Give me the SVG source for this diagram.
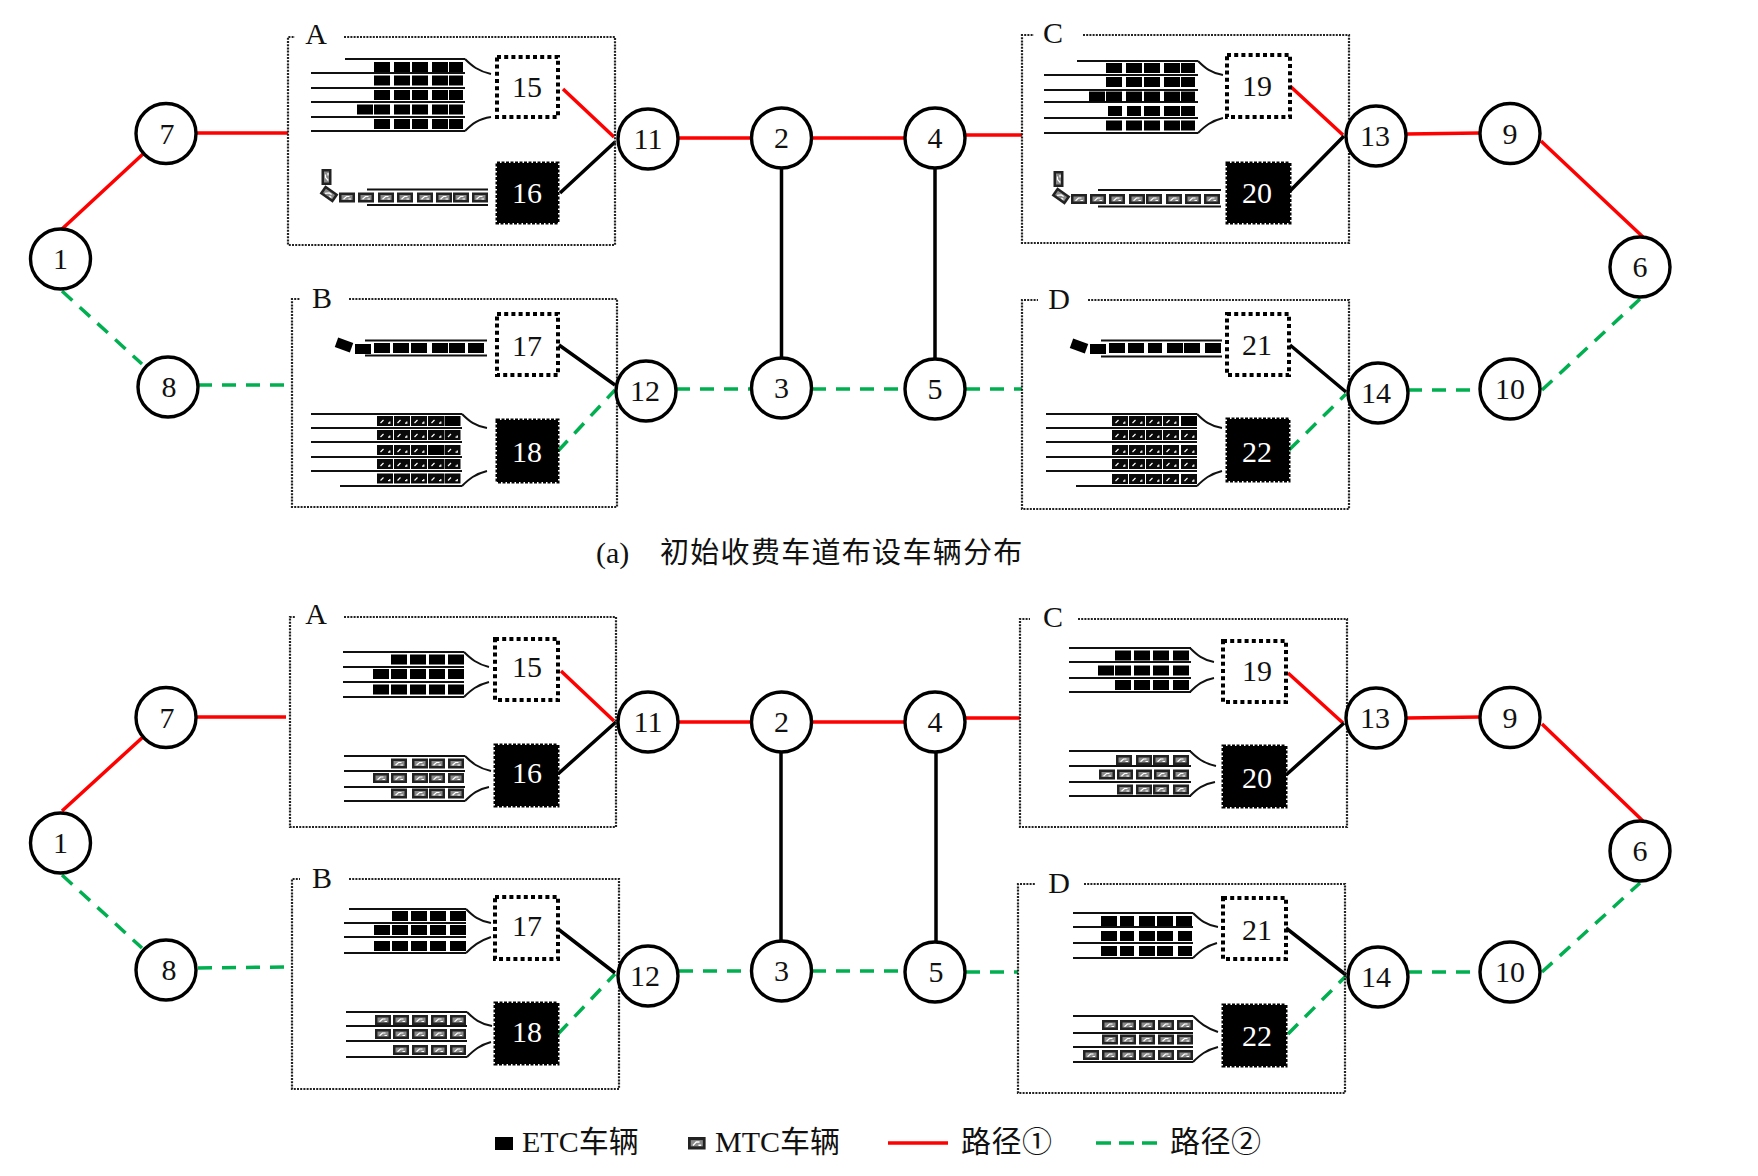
<svg xmlns="http://www.w3.org/2000/svg" width="1758" height="1176" viewBox="0 0 1758 1176">
<style>
text{font-family:"Liberation Serif","Noto Sans CJK SC",serif;font-size:30px;fill:#111;text-anchor:middle}
text.w{fill:#fff}
text.l{text-anchor:start}
.red{stroke:#f00;stroke-width:3.5;fill:none}
.grn{stroke:#00b050;stroke-width:3.5;fill:none;stroke-dasharray:14 10}
.blk{stroke:#000;stroke-width:3.5;fill:none}
.frame{fill:none;stroke:#222;stroke-width:2.2;stroke-dasharray:2 1.2}
.lane{fill:none;stroke:#111;stroke-width:2}
.hub{fill:#fff;stroke:#000;stroke-width:3.4;r:30px}
.open{fill:#fff;stroke:#000;stroke-width:4;stroke-dasharray:4 3.2}
.shut{fill:#000;stroke:#000;stroke-width:3;stroke-dasharray:3 1.5}
</style>
<defs>
<rect id="e" width="16" height="10" fill="#000"/>
<rect id="e4" width="14" height="10" fill="#000"/>
<g id="m"><rect width="16" height="10" fill="#222"/><rect x="2.500" y="2.500" width="11" height="5" fill="#8a8a8a"/><path d="M4.500 6.800l3-2.800h3M9.500 6.500h2.500" fill="none" stroke="#fff" stroke-width="1.200"/></g>
<g id="d"><rect width="16" height="10" fill="#0a0a0a"/><path d="M3.500 7l3-3M11 7.200h1.800v-1.800" fill="none" stroke="#fff" stroke-width="1.200"/></g>
</defs>

<!-- links between hubs and toll stations -->
<g id="connectors">
<path class="red" d="M62 229L143 154M197 133H288M679 138H751M812 138H905M966 135H1022M1407 134L1480 133M1541 141L1643 237"/>
<path class="red" d="M563 89L614 137M1290 86L1343 135"/>
<path class="grn" d="M62 291L142 364"/>
<path class="grn" d="M198 385H284"/>
<path class="grn" d="M676 389H751"/>
<path class="grn" d="M812 389H905"/>
<path class="grn" d="M966 389H1022"/>
<path class="grn" d="M1408 390H1480"/>
<path class="grn" d="M1542 390L1640 299"/>
<path class="grn" d="M558 451L615 390"/>
<path class="grn" d="M1289 450L1346 394"/>
<path class="blk" d="M781.500 169V357M935 169V358M560 193L615 142M559 345L615 385M1290 191L1344 136M1290 345L1346 392"/>

<path class="red" d="M62 811L143 737M197 717H286M679 722H751M812 722H905M966 718H1020M1407 718L1480 717M1542 724L1644 822"/>
<path class="red" d="M561 671L614 721M1288 673L1343 723"/>
<path class="grn" d="M62 875L142 948"/>
<path class="grn" d="M198 968L284 967"/>
<path class="grn" d="M679 971H751"/>
<path class="grn" d="M812 971H905"/>
<path class="grn" d="M966 972H1018"/>
<path class="grn" d="M1408 972H1480"/>
<path class="grn" d="M1542 972L1640 883"/>
<path class="grn" d="M558 1034L615 974"/>
<path class="grn" d="M1288 1034L1346 976"/>
<path class="blk" d="M781 753V940M936 753V941M558 774L616 722M558 929L615 973M1286 775L1344 723M1286 928L1346 975"/>
</g>

<!-- upper layout: station frames, lanes and queued vehicles -->
<g id="a-zone-A">
<path class="frame" d="M344 37H615V245H288V37H295"/>
<text x="316" y="44">A</text>
<path class="lane" d="M345 59H465M311 73H465M311 88H465M311 102H465M311 117H465M311 131H465M465 59C472 66 478 71 491 74M465 131C472 124 478 119 491 117"/>
<use href="#e" x="374" y="62"/><use href="#e" x="394" y="62"/><use href="#e" x="412" y="62"/><use href="#e" x="432" y="62"/><use href="#e4" x="449" y="62"/>
<use href="#e" x="374" y="75.500"/><use href="#e" x="394" y="75.500"/><use href="#e" x="412" y="75.500"/><use href="#e" x="432" y="75.500"/><use href="#e4" x="449" y="75.500"/>
<use href="#e" x="374" y="90"/><use href="#e" x="394" y="90"/><use href="#e" x="412" y="90"/><use href="#e" x="432" y="90"/><use href="#e4" x="449" y="90"/>
<use href="#e" x="357" y="104.500"/><use href="#e" x="374" y="104.500"/><use href="#e" x="394" y="104.500"/><use href="#e" x="412" y="104.500"/><use href="#e" x="432" y="104.500"/><use href="#e4" x="449" y="104.500"/>
<use href="#e" x="374" y="119"/><use href="#e" x="394" y="119"/><use href="#e" x="412" y="119"/><use href="#e" x="432" y="119"/><use href="#e4" x="449" y="119"/>
<path class="lane" d="M367 189.500H488M367 205H488"/>
<use href="#m" x="339" y="192.500"/><use href="#m" x="358" y="192.500"/><use href="#m" x="378" y="192.500"/><use href="#m" x="397" y="192.500"/><use href="#m" x="417" y="192.500"/><use href="#m" x="436" y="192.500"/><use href="#m" x="453" y="192.500"/><use href="#m" x="472" y="192.500"/>
<use href="#m" transform="translate(329 194) rotate(35) translate(-8 -5)"/>
<use href="#m" transform="translate(326.500 177) rotate(-90) translate(-8 -5)"/>
</g>

<g id="a-zone-B">
<path class="frame" d="M349 299H617V507H292V299H300"/>
<text x="322" y="308">B</text>
<path class="lane" d="M365 340.500H487M365 355.500H487"/>
<use href="#e" x="374" y="343"/><use href="#e" x="393" y="343"/><use href="#e" x="411" y="343"/><use href="#e" x="432" y="343"/><use href="#e" x="449" y="343"/><use href="#e" x="468" y="343"/>
<use href="#e" x="355" y="344"/>
<use href="#e" transform="translate(344 345) rotate(20) translate(-8 -5)"/>
<path class="lane" d="M311 414H462M311 428H462M311 442H462M311 457H462M311 471H462M340 486H462M462 414C469 421 475 426 487 428M462 486C469 479 475 474 487 471"/>
<use href="#d" x="377" y="416"/><use href="#d" x="394" y="416"/><use href="#d" x="411" y="416"/><use href="#d" x="428" y="416"/><use href="#e" x="444.500" y="416"/>
<use href="#d" x="377" y="430"/><use href="#d" x="394" y="430"/><use href="#d" x="411" y="430"/><use href="#d" x="428" y="430"/><use href="#d" x="444.500" y="430"/>
<use href="#d" x="377" y="445"/><use href="#d" x="394" y="445"/><use href="#d" x="411" y="445"/><use href="#e" x="428" y="445"/><use href="#d" x="444.500" y="445"/>
<use href="#d" x="377" y="459"/><use href="#d" x="394" y="459"/><use href="#d" x="411" y="459"/><use href="#d" x="428" y="459"/><use href="#d" x="444.500" y="459"/>
<use href="#d" x="377" y="473.500"/><use href="#d" x="394" y="473.500"/><use href="#d" x="411" y="473.500"/><use href="#d" x="428" y="473.500"/><use href="#d" x="444.500" y="473.500"/>
</g>

<g id="a-zone-C">
<path class="frame" d="M1083 35H1349V243H1022V35H1034"/>
<text x="1053" y="43">C</text>
<path class="lane" d="M1077 61H1198M1044 75H1198M1044 90H1198M1044 102H1198M1044 118H1198M1044 133H1198M1198 61C1205 68 1211 73 1223 75M1198 133C1205 126 1211 121 1223 118"/>
<use href="#e" x="1106" y="63"/><use href="#e" x="1126" y="63"/><use href="#e" x="1144" y="63"/><use href="#e" x="1164" y="63"/><use href="#e4" x="1181" y="63"/>
<use href="#e" x="1106" y="77"/><use href="#e" x="1126" y="77"/><use href="#e" x="1144" y="77"/><use href="#e" x="1164" y="77"/><use href="#e4" x="1181" y="77"/>
<use href="#e" x="1089" y="91.500"/><use href="#e" x="1106" y="91.500"/><use href="#e" x="1126" y="91.500"/><use href="#e" x="1144" y="91.500"/><use href="#e" x="1164" y="91.500"/><use href="#e4" x="1181" y="91.500"/>
<use href="#e4" x="1108" y="106"/><use href="#e4" x="1127" y="106"/><use href="#e" x="1144" y="106"/><use href="#e" x="1164" y="106"/><use href="#e4" x="1181" y="106"/>
<use href="#e" x="1106" y="120.500"/><use href="#e" x="1126" y="120.500"/><use href="#e" x="1144" y="120.500"/><use href="#e" x="1164" y="120.500"/><use href="#e4" x="1181" y="120.500"/>
<path class="lane" d="M1098 190H1221M1098 206.500H1221"/>
<use href="#m" x="1071" y="194"/><use href="#m" x="1090" y="194"/><use href="#m" x="1109" y="194"/><use href="#m" x="1129" y="194"/><use href="#m" x="1146" y="194"/><use href="#m" x="1166" y="194"/><use href="#m" x="1185" y="194"/><use href="#m" x="1204" y="194"/>
<use href="#m" transform="translate(1061 196) rotate(35) translate(-8 -5)"/>
<use href="#m" transform="translate(1058.500 179) rotate(-90) translate(-8 -5)"/>
</g>

<g id="a-zone-D">
<path class="frame" d="M1088 300H1349V509H1022V300H1038"/>
<text x="1059" y="309">D</text>
<path class="lane" d="M1101 340.500H1222M1101 356.500H1222"/>
<use href="#e" x="1109" y="343"/><use href="#e" x="1128" y="343"/><use href="#e4" x="1148" y="343"/><use href="#e" x="1167" y="343"/><use href="#e" x="1184" y="343"/><use href="#e" x="1205" y="343"/>
<use href="#e" x="1090" y="344"/>
<use href="#e" transform="translate(1079 346) rotate(20) translate(-8 -5)"/>
<path class="lane" d="M1046 414H1197M1046 428H1197M1046 442H1197M1046 457H1197M1046 471H1197M1076 486H1197M1197 414C1204 421 1210 426 1222 428M1197 486C1204 479 1210 474 1222 471"/>
<use href="#d" x="1112" y="416"/><use href="#d" x="1129" y="416"/><use href="#d" x="1146" y="416"/><use href="#d" x="1163" y="416"/><use href="#e" x="1181" y="416"/>
<use href="#d" x="1112" y="430"/><use href="#d" x="1129" y="430"/><use href="#d" x="1146" y="430"/><use href="#d" x="1163" y="430"/><use href="#d" x="1181" y="430"/>
<use href="#d" x="1112" y="445"/><use href="#d" x="1129" y="445"/><use href="#d" x="1146" y="445"/><use href="#d" x="1163" y="445"/><use href="#d" x="1181" y="445"/>
<use href="#d" x="1112" y="459"/><use href="#d" x="1129" y="459"/><use href="#d" x="1146" y="459"/><use href="#d" x="1163" y="459"/><use href="#d" x="1181" y="459"/>
<use href="#d" x="1112" y="474"/><use href="#d" x="1129" y="474"/><use href="#d" x="1146" y="474"/><use href="#d" x="1163" y="474"/><use href="#d" x="1181" y="474"/>
</g>

<!-- lower layout: station frames, lanes and queued vehicles -->
<g id="b-zone-A">
<path class="frame" d="M344 617H616V827H290V617H296"/>
<text x="316" y="624">A</text>
<path class="lane" d="M343 652H464M343 667H464M343 682H464M343 697H464M464 652C471 659 477 664 489 667M464 697C471 690 477 685 489 682"/>
<use href="#e" x="391" y="654.500"/><use href="#e" x="410" y="654.500"/><use href="#e" x="429" y="654.500"/><use href="#e" x="448" y="654.500"/>
<use href="#e" x="373" y="669"/><use href="#e" x="391" y="669"/><use href="#e" x="410" y="669"/><use href="#e" x="429" y="669"/><use href="#e" x="448" y="669"/>
<use href="#e" x="373" y="684.500"/><use href="#e" x="391" y="684.500"/><use href="#e" x="410" y="684.500"/><use href="#e" x="429" y="684.500"/><use href="#e" x="448" y="684.500"/>
<path class="lane" d="M344 756H465M344 771H465M344 787H465M344 801H465M465 756C472 763 478 768 491 771M465 801C472 794 478 789 489 787"/>
<use href="#m" x="391" y="758.500"/><use href="#m" x="412" y="758.500"/><use href="#m" x="429" y="758.500"/><use href="#m" x="448" y="758.500"/>
<use href="#m" x="373" y="773"/><use href="#m" x="391" y="773"/><use href="#m" x="412" y="773"/><use href="#m" x="429" y="773"/><use href="#m" x="448" y="773"/>
<use href="#m" x="391" y="788.500"/><use href="#m" x="412" y="788.500"/><use href="#m" x="429" y="788.500"/><use href="#m" x="448" y="788.500"/>
</g>

<g id="b-zone-B">
<path class="frame" d="M349 879H619V1089H292V879H300"/>
<text x="322" y="888">B</text>
<path class="lane" d="M349 909H466M344 923H466M344 937H466M344 953H466M466 909C473 916 479 921 491 923M466 953C473 946 479 941 491 937"/>
<use href="#e" x="392" y="911"/><use href="#e" x="411" y="911"/><use href="#e" x="430" y="911"/><use href="#e" x="450" y="911"/>
<use href="#e" x="374" y="925"/><use href="#e" x="392" y="925"/><use href="#e" x="411" y="925"/><use href="#e" x="430" y="925"/><use href="#e" x="450" y="925"/>
<use href="#e" x="374" y="941"/><use href="#e" x="392" y="941"/><use href="#e" x="411" y="941"/><use href="#e" x="430" y="941"/><use href="#e" x="450" y="941"/>
<path class="lane" d="M346 1012H467M346 1026H467M346 1041H467M346 1057H467M467 1012C474 1019 480 1024 492 1026M467 1057C474 1050 480 1045 491 1042"/>
<use href="#m" x="375" y="1015"/><use href="#m" x="393" y="1015"/><use href="#m" x="412" y="1015"/><use href="#m" x="431" y="1015"/><use href="#m" x="450" y="1015"/>
<use href="#m" x="375" y="1029"/><use href="#m" x="393" y="1029"/><use href="#m" x="412" y="1029"/><use href="#m" x="431" y="1029"/><use href="#m" x="450" y="1029"/>
<use href="#m" x="393" y="1045"/><use href="#m" x="412" y="1045"/><use href="#m" x="431" y="1045"/><use href="#m" x="450" y="1045"/>
</g>

<g id="b-zone-C">
<path class="frame" d="M1078 619H1347V827H1020V619H1030"/>
<text x="1053" y="627">C</text>
<path class="lane" d="M1069 648H1191M1069 662H1191M1069 678H1191M1069 692H1191M1190 648C1197 655 1203 660 1214 662M1190 692C1197 685 1203 680 1214 678"/>
<use href="#e" x="1115" y="650.500"/><use href="#e" x="1134" y="650.500"/><use href="#e" x="1153" y="650.500"/><use href="#e" x="1173" y="650.500"/>
<use href="#e" x="1098" y="665.500"/><use href="#e" x="1115" y="665.500"/><use href="#e" x="1134" y="665.500"/><use href="#e" x="1153" y="665.500"/><use href="#e" x="1173" y="665.500"/>
<use href="#e" x="1115" y="680"/><use href="#e" x="1134" y="680"/><use href="#e" x="1153" y="680"/><use href="#e" x="1173" y="680"/>
<path class="lane" d="M1069 751H1191M1069 766H1191M1069 782H1191M1069 796H1191M1190 751C1197 758 1203 763 1216 766M1190 796C1197 789 1203 784 1215 782"/>
<use href="#m" x="1116" y="755"/><use href="#m" x="1136" y="755"/><use href="#m" x="1153" y="755"/><use href="#m" x="1173" y="755"/>
<use href="#m" x="1099" y="769.500"/><use href="#m" x="1117" y="769.500"/><use href="#m" x="1136" y="769.500"/><use href="#m" x="1154" y="769.500"/><use href="#m" x="1173" y="769.500"/>
<use href="#m" x="1117" y="784.500"/><use href="#m" x="1136" y="784.500"/><use href="#m" x="1153" y="784.500"/><use href="#m" x="1173" y="784.500"/>
</g>

<g id="b-zone-D">
<path class="frame" d="M1084 884H1345V1093H1018V884H1035"/>
<text x="1059" y="893">D</text>
<path class="lane" d="M1073 913H1193M1073 927H1193M1073 943H1193M1073 958H1193M1193 913C1200 920 1206 925 1218 927M1193 958C1200 951 1206 946 1217 943"/>
<use href="#e" x="1101" y="916"/><use href="#e4" x="1120" y="916"/><use href="#e" x="1139" y="916"/><use href="#e" x="1157" y="916"/><use href="#e" x="1176" y="916"/>
<use href="#e" x="1101" y="931"/><use href="#e4" x="1120" y="931"/><use href="#e" x="1139" y="931"/><use href="#e" x="1157" y="931"/><use href="#e4" x="1178" y="931"/>
<use href="#e" x="1101" y="946"/><use href="#e4" x="1120" y="946"/><use href="#e" x="1139" y="946"/><use href="#e" x="1157" y="946"/><use href="#e4" x="1178" y="946"/>
<path class="lane" d="M1073 1016H1193M1073 1033H1193M1073 1047H1193M1073 1062H1193M1193 1016C1200 1023 1206 1028 1218 1032M1193 1062C1200 1055 1206 1050 1218 1047"/>
<use href="#m" x="1102" y="1020"/><use href="#m" x="1120" y="1020"/><use href="#m" x="1139" y="1020"/><use href="#m" x="1158" y="1020"/><use href="#m" x="1177" y="1020"/>
<use href="#m" x="1102" y="1034.500"/><use href="#m" x="1120" y="1034.500"/><use href="#m" x="1139" y="1034.500"/><use href="#m" x="1158" y="1034.500"/><use href="#m" x="1177" y="1034.500"/>
<use href="#m" x="1083" y="1050"/><use href="#m" x="1102" y="1050"/><use href="#m" x="1120" y="1050"/><use href="#m" x="1139" y="1050"/><use href="#m" x="1158" y="1050"/><use href="#m" x="1177" y="1050"/>
</g>

<!-- toll stations, upper layout -->
<g id="a-n15"><rect class="open" x="497" y="57" width="61" height="60"/><text x="527" y="97">15</text></g>
<g id="a-n16"><rect class="shut" x="497" y="163" width="61" height="60"/><text class="w" x="527" y="203">16</text></g>
<g id="a-n17"><rect class="open" x="497" y="314" width="61" height="61"/><text x="527" y="356">17</text></g>
<g id="a-n18"><rect class="shut" x="497" y="420" width="61" height="62"/><text class="w" x="527" y="462">18</text></g>
<g id="a-n19"><rect class="open" x="1227" y="55" width="63" height="62"/><text x="1257" y="96">19</text></g>
<g id="a-n20"><rect class="shut" x="1227" y="163" width="63" height="60"/><text class="w" x="1257" y="203">20</text></g>
<g id="a-n21"><rect class="open" x="1227" y="314" width="62" height="61"/><text x="1257" y="355">21</text></g>
<g id="a-n22"><rect class="shut" x="1227" y="419" width="62" height="62"/><text class="w" x="1257" y="462">22</text></g>

<!-- hubs, upper layout -->
<g id="a-n1"><circle class="hub" cx="60.500" cy="259"/><text x="60.500" y="269">1</text></g>
<g id="a-n7"><circle class="hub" cx="166" cy="133.500"/><text x="167" y="143.500">7</text></g>
<g id="a-n8"><circle class="hub" cx="168" cy="387"/><text x="169" y="397">8</text></g>
<g id="a-n11"><circle class="hub" cx="648" cy="139"/><text x="648" y="149">11</text></g>
<g id="a-n12"><circle class="hub" cx="646" cy="391"/><text x="645" y="401">12</text></g>
<g id="a-n2"><circle class="hub" cx="781.500" cy="138"/><text x="781.500" y="148">2</text></g>
<g id="a-n3"><circle class="hub" cx="781.500" cy="388"/><text x="781.500" y="398">3</text></g>
<g id="a-n4"><circle class="hub" cx="935" cy="138"/><text x="935" y="148">4</text></g>
<g id="a-n5"><circle class="hub" cx="935" cy="389"/><text x="935" y="399">5</text></g>
<g id="a-n13"><circle class="hub" cx="1376" cy="136"/><text x="1375" y="146">13</text></g>
<g id="a-n14"><circle class="hub" cx="1378" cy="393"/><text x="1376" y="403">14</text></g>
<g id="a-n9"><circle class="hub" cx="1510" cy="133.500"/><text x="1510" y="143.500">9</text></g>
<g id="a-n10"><circle class="hub" cx="1510" cy="389"/><text x="1510" y="399">10</text></g>
<g id="a-n6"><circle class="hub" cx="1640" cy="267"/><text x="1640" y="277">6</text></g>

<g id="caption-a">
<text class="l" x="596" y="563" style="font-size:30px">(a)</text>
<text class="l" x="660" y="563" style="font-size:29px;letter-spacing:1.300px">初始收费车道布设车辆分布</text>
</g>

<!-- toll stations, lower layout -->
<g id="b-n15"><rect class="open" x="495" y="639" width="63" height="61"/><text x="527" y="677">15</text></g>
<g id="b-n16"><rect class="shut" x="495" y="745" width="63" height="61"/><text class="w" x="527" y="783">16</text></g>
<g id="b-n17"><rect class="open" x="495" y="897" width="63" height="62"/><text x="527" y="936">17</text></g>
<g id="b-n18"><rect class="shut" x="495" y="1003" width="63" height="61"/><text class="w" x="527" y="1042">18</text></g>
<g id="b-n19"><rect class="open" x="1223" y="641" width="63" height="61"/><text x="1257" y="681">19</text></g>
<g id="b-n20"><rect class="shut" x="1223" y="746" width="63" height="61"/><text class="w" x="1257" y="788">20</text></g>
<g id="b-n21"><rect class="open" x="1223" y="898" width="63" height="61"/><text x="1257" y="940">21</text></g>
<g id="b-n22"><rect class="shut" x="1223" y="1005" width="63" height="61"/><text class="w" x="1257" y="1046">22</text></g>

<!-- hubs, lower layout -->
<g id="b-n1"><circle class="hub" cx="60.500" cy="843"/><text x="60.500" y="853">1</text></g>
<g id="b-n7"><circle class="hub" cx="166" cy="717.500"/><text x="167" y="727.500">7</text></g>
<g id="b-n8"><circle class="hub" cx="166" cy="970"/><text x="169" y="980">8</text></g>
<g id="b-n11"><circle class="hub" cx="648" cy="722"/><text x="648" y="732">11</text></g>
<g id="b-n12"><circle class="hub" cx="648" cy="976"/><text x="645" y="986">12</text></g>
<g id="b-n2"><circle class="hub" cx="781.500" cy="722"/><text x="781.500" y="732">2</text></g>
<g id="b-n3"><circle class="hub" cx="781.500" cy="971"/><text x="781.500" y="981">3</text></g>
<g id="b-n4"><circle class="hub" cx="935" cy="722"/><text x="935" y="732">4</text></g>
<g id="b-n5"><circle class="hub" cx="935" cy="972"/><text x="936" y="982">5</text></g>
<g id="b-n13"><circle class="hub" cx="1376" cy="718"/><text x="1375" y="728">13</text></g>
<g id="b-n14"><circle class="hub" cx="1378" cy="977"/><text x="1376" y="987">14</text></g>
<g id="b-n9"><circle class="hub" cx="1510" cy="717.500"/><text x="1510" y="727.500">9</text></g>
<g id="b-n10"><circle class="hub" cx="1510" cy="972"/><text x="1510" y="982">10</text></g>
<g id="b-n6"><circle class="hub" cx="1640" cy="851"/><text x="1640" y="861">6</text></g>

<!-- key for vehicle types and routes -->
<g id="key">
<rect x="495" y="1137" width="18" height="13" fill="#000"/>
<text class="l" x="522" y="1152">ETC车辆</text>
<use href="#m" transform="translate(688 1137) scale(1.100 1.250)"/>
<text class="l" x="715" y="1152">MTC车辆</text>
<path class="red" d="M888 1143H948"/>
<text class="l" x="961" y="1152" style="letter-spacing:.5px">路径①</text>
<path class="grn" d="M1096 1143H1157" style="stroke-dasharray:15 8"/>
<text class="l" x="1170" y="1152" style="letter-spacing:.5px">路径②</text>
</g>
</svg>
